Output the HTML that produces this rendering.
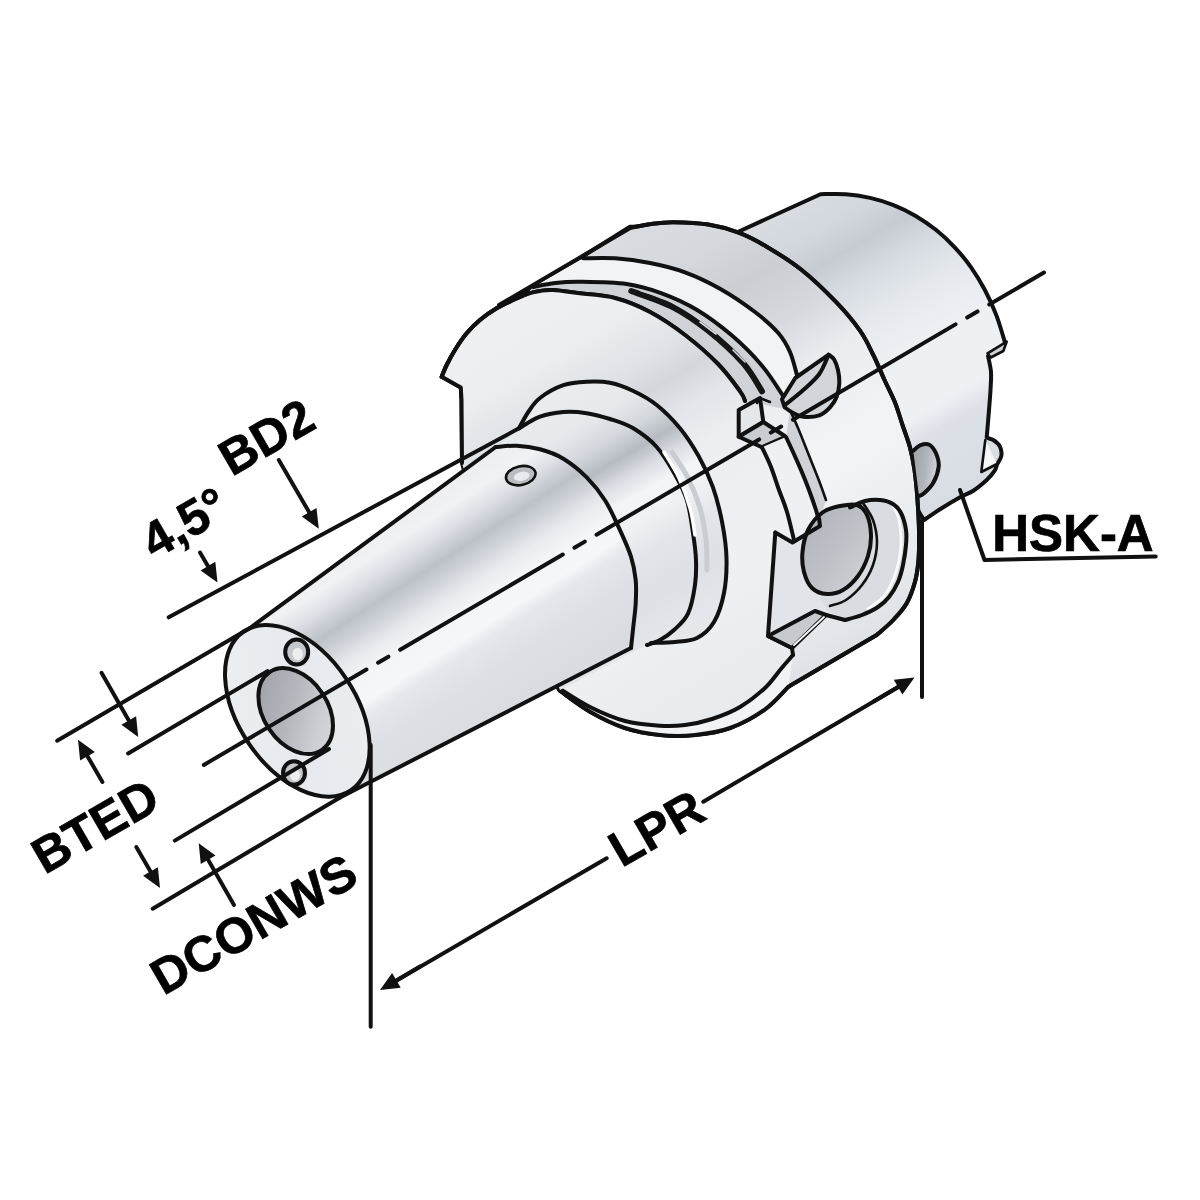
<!DOCTYPE html>
<html><head><meta charset="utf-8"><style>html,body{margin:0;padding:0;background:#fff}svg{display:block}</style></head>
<body><svg width="1200" height="1200" viewBox="0 0 1200 1200">
<defs><linearGradient id="gCone" gradientUnits="userSpaceOnUse" x1="364.1" y1="534.8" x2="487.3" y2="726.7"><stop offset="0" stop-color="#eceef1"/><stop offset="0.1" stop-color="#f0f2f4"/><stop offset="0.18" stop-color="#dcdfe4"/><stop offset="0.28" stop-color="#bcc1c8"/><stop offset="0.36" stop-color="#d2d6db"/><stop offset="0.44" stop-color="#e9ecef"/><stop offset="0.52" stop-color="#f3f5f7"/><stop offset="0.62" stop-color="#f5f7f9"/><stop offset="0.68" stop-color="#e4e7eb"/><stop offset="0.8" stop-color="#dde0e5"/><stop offset="1" stop-color="#d8dce1"/></linearGradient>
<linearGradient id="gShank" gradientUnits="userSpaceOnUse" x1="886.3" y1="150.7" x2="1073.5" y2="469.8"><stop offset="0" stop-color="#d9dde2"/><stop offset="0.1" stop-color="#d2d7dd"/><stop offset="0.18" stop-color="#c6cbd3"/><stop offset="0.26" stop-color="#d6dbe1"/><stop offset="0.36" stop-color="#e4e8ec"/><stop offset="0.5" stop-color="#eef1f4"/><stop offset="0.66" stop-color="#eef1f4"/><stop offset="0.72" stop-color="#dde1e7"/><stop offset="1" stop-color="#d5dae1"/></linearGradient>
<linearGradient id="gFlange" gradientUnits="userSpaceOnUse" x1="540.3" y1="272.5" x2="798.4" y2="712.3"><stop offset="0" stop-color="#dadde1"/><stop offset="0.12" stop-color="#d5d9dd"/><stop offset="0.22" stop-color="#cbcfd4"/><stop offset="0.32" stop-color="#d5d9dd"/><stop offset="0.42" stop-color="#eaedf0"/><stop offset="0.6" stop-color="#f2f4f6"/><stop offset="0.85" stop-color="#e8ebee"/><stop offset="1" stop-color="#d8dce0"/></linearGradient>
<linearGradient id="gCollar" gradientUnits="userSpaceOnUse" x1="523.4" y1="421.5" x2="660.1" y2="654.4"><stop offset="0" stop-color="#e9ecef"/><stop offset="0.12" stop-color="#e6e9ec"/><stop offset="0.22" stop-color="#d3d7dc"/><stop offset="0.3" stop-color="#b6bbc2"/><stop offset="0.37" stop-color="#d9dce1"/><stop offset="0.45" stop-color="#f3f5f7"/><stop offset="0.55" stop-color="#eef0f3"/><stop offset="0.65" stop-color="#e2e5e9"/><stop offset="0.8" stop-color="#dde0e4"/><stop offset="1" stop-color="#e6e9ec"/></linearGradient>
<linearGradient id="gBore" x1="0.2" y1="0" x2="0.8" y2="1"><stop offset="0" stop-color="#9ea2a8"/><stop offset="0.45" stop-color="#b4b8bd"/><stop offset="0.8" stop-color="#cdd0d4"/><stop offset="1" stop-color="#d6d9dc"/></linearGradient>
<linearGradient id="gHole" x1="0" y1="0" x2="1" y2="1"><stop offset="0" stop-color="#8f949b"/><stop offset="0.6" stop-color="#b6bac0"/><stop offset="1" stop-color="#d4d7db"/></linearGradient>
<linearGradient id="gFace" x1="0" y1="0" x2="1" y2="1"><stop offset="0" stop-color="#eef0f3"/><stop offset="0.5" stop-color="#e6e9ed"/><stop offset="1" stop-color="#edf0f2"/></linearGradient>
<linearGradient id="gBand" gradientUnits="userSpaceOnUse" x1="540.3" y1="272.5" x2="798.4" y2="712.3"><stop offset="0" stop-color="#cdd1d6"/><stop offset="0.25" stop-color="#bfc3c9"/><stop offset="0.5" stop-color="#e3e6e9"/><stop offset="1" stop-color="#eef0f2"/></linearGradient>
<linearGradient id="gFF" gradientUnits="userSpaceOnUse" x1="540.3" y1="272.5" x2="798.4" y2="712.3"><stop offset="0" stop-color="#eef0f2"/><stop offset="0.15" stop-color="#eceef1"/><stop offset="0.25" stop-color="#dfe2e6"/><stop offset="0.31" stop-color="#d3d7dc"/><stop offset="0.37" stop-color="#e2e5e9"/><stop offset="0.45" stop-color="#eceef1"/><stop offset="0.7" stop-color="#eef0f2"/><stop offset="1" stop-color="#e6e9ec"/></linearGradient>
<linearGradient id="gH3" x1="0" y1="0" x2="1" y2="1"><stop offset="0" stop-color="#aeb2b8"/><stop offset="0.55" stop-color="#bfc3c8"/><stop offset="1" stop-color="#d3d6da"/></linearGradient>
<linearGradient id="gRH" x1="0" y1="0" x2="1" y2="0.3"><stop offset="0" stop-color="#9a9fa6"/><stop offset="0.6" stop-color="#b3b7bd"/><stop offset="1" stop-color="#d2d5d9"/></linearGradient></defs>
<rect width="1200" height="1200" fill="#fff"/>
<path d="M738.3,231.7 L820.5,194.2 C824.7,194.2 837.3,193.6 845.6,194.2 C853.9,194.8 862.1,196.1 870.1,197.9 C878.1,199.7 885.9,202.1 893.5,205.1 C901.1,208.1 908.6,211.8 915.7,215.9 C922.8,220.1 929.7,224.8 936.2,230 C942.7,235.2 948.9,241.1 954.7,247.3 C960.5,253.5 966.1,260.2 971.1,267.4 C976.1,274.6 980.8,282.3 985,290.3 C989.2,298.3 993.1,306.7 996.4,315.4 C999.7,324.1 1003.6,338 1005,342.5 L1002,350 L988,356 C988.5,358.7 990.6,366.3 991,372 C991.4,377.7 990.8,383.7 990.5,390 C990.2,396.3 989.6,402.1 989,410 C988.4,417.9 987.1,432.8 986.7,437.3 C987.8,438.8 991.1,438.6 993.3,440 C995.5,441.4 998.7,444 1000,446.7 C1001.3,449.4 1001.8,453.1 1001.3,456 C1000.8,458.9 998.4,461.6 997.3,464 C996.2,466.4 996.5,468 994.7,470.7 C992.9,473.4 990.3,476.7 986.7,480 C983.1,483.3 977.8,487.8 973.3,490.7 C968.8,493.6 965.5,494.2 960,497.3 C954.5,500.4 946,505.5 940,509.3 C934,513.1 926.7,518.2 924,520 L880,450 Z" fill="url(#gShank)" stroke="#111" stroke-width="4.0" stroke-linejoin="round" stroke-linecap="round"/>
<path d="M987.5,353.3 L1006.7,341.7 L1003.3,351 L990.8,357.5 Z" fill="#cfd3d8" stroke="#111" stroke-width="2.6" stroke-linejoin="round" stroke-linecap="round"/>
<path d="M985.3,440 L981.3,472 L997,464" fill="#f6f7f8" stroke="#111" stroke-width="2.6" stroke-linejoin="round" stroke-linecap="round"/>
<path d="M522,294.5 L630,226.7 C633.7,227.3 643.8,225 651,224 C658.2,223 663.8,222.1 673.3,222.2 C682.8,222.3 697.4,222.8 708.3,224.5 C719.2,226.2 729,229 738.7,232.7 C748.4,236.4 756.2,240.5 766.7,246.7 C777.2,252.9 790,260.7 801.7,270 C813.4,279.3 827,292.6 836.7,302.7 C846.4,312.8 853.9,322 860,330.7 C866.1,339.4 869.2,346.8 873.3,355 C877.4,363.2 880.9,372.1 884.5,380 C888.1,387.9 892,395 895,402.5 C898,410 900,417.5 902.5,425 C905,432.5 908,440 910,447.5 C912,455 913.2,461.2 914.5,470 C915.8,478.8 916.8,490 917.5,500 C918.2,510 918.8,520 919,530 C919.2,540 919.2,551.4 918.5,560 C917.8,568.6 917,574.5 915,581.7 C913,588.9 910.3,596.9 906.7,603.3 C903.1,609.7 898.3,614.7 893.3,620 C888.3,625.3 879.5,632.5 876.7,635 L788.3,686.7 C784.4,690.5 774.7,702.4 765,709.3 C755.3,716.2 741.7,723.7 730,728 C718.3,732.3 706.7,733.8 695,735 C683.3,736.2 671.7,736.2 660,735 C648.3,733.8 636.7,731.9 625,728 C613.3,724.1 600.9,717.9 590,711.7 C579.1,705.5 564.8,694.2 559.7,690.7 L500,600 L462,463 L461.5,400 L460.8,387.5 L441.7,376.7 C442.5,374.8 444.5,369.4 446.7,365 C448.9,360.6 451.7,355.3 455,350 C458.3,344.7 462.5,338.3 466.7,333.3 C470.9,328.3 475,324.2 480,320 C485,315.8 491.1,311.6 496.7,308.3 C502.2,305 508.2,302.4 513.3,300 C518.3,297.6 524.7,295 527,294 Z" fill="url(#gFlange)" stroke="#111" stroke-width="4.0" stroke-linejoin="round" stroke-linecap="round"/>
<path d="M583,258.3 C588.3,258.3 603.8,257.5 615,258.3 C626.2,259.1 638.3,260.7 650,263 C661.7,265.3 673.3,268 685,272.3 C696.7,276.6 708.3,282.1 720,288.7 C731.7,295.3 745.3,304.6 755,312 C764.7,319.4 772.5,326.3 778.3,333 C784.1,339.7 786.9,345 790,352 C793.1,359 795.8,371.2 797,375 L790,410 C788.8,407.7 787.7,403.4 783,396 C778.3,388.6 770.5,375.8 762,365.7 C753.5,355.6 742.6,344.6 731.7,335.3 C720.8,326 708.4,316.7 696.7,309.7 C685,302.7 673.4,297.6 661.7,293.3 C650,289 640.3,285.9 626.7,284 C613.1,282.1 592,281.9 580,281.7 C568,281.5 562.8,282.1 555,283 C547.2,283.9 536.7,286.3 533,287 Z" fill="#f1f3f5" stroke="none" stroke-width="4.0" stroke-linejoin="round" stroke-linecap="round"/>
<path d="M533,287 C536.7,286.3 547.2,283.9 555,283 C562.8,282.1 568,281.5 580,281.7 C592,281.9 613.1,282.1 626.7,284 C640.3,285.9 650,289 661.7,293.3 C673.4,297.6 685,302.7 696.7,309.7 C708.4,316.7 720.8,326 731.7,335.3 C742.6,344.6 753.5,355.6 762,365.7 C770.5,375.8 778.3,388.6 783,396 C787.7,403.4 788.8,407.7 790,410 L745,401 C744.2,399.4 744.5,397.5 740,391.3 C735.5,385.1 727.2,373.4 718,364 C708.8,354.6 696.3,343.7 685,335 C673.7,326.3 661.7,318.2 650,312 C638.3,305.8 626.7,301.1 615,298 C603.3,294.9 590.3,294.6 580,293.3 C569.7,292 560,290.4 553.3,290 C546.6,289.6 544.4,290.3 540,291 C535.6,291.7 529.2,293.5 527,294 Z" fill="#cfd3d8" stroke="none" stroke-width="4.0" stroke-linejoin="round" stroke-linecap="round"/>
<path d="M631.3,291 C638.3,293.7 660.5,300.7 673.3,307.3 C686.1,313.9 696.6,321.4 708.3,330.7 C720,340 734.3,353.2 743.3,363.3 C752.2,373.4 758.9,386.6 762,391.3" fill="none" stroke="#151515" stroke-width="6" stroke-linejoin="round" stroke-linecap="round"/>
<path d="M700,322 L716,334" fill="none" stroke="#d8dbe0" stroke-width="1.6" stroke-linejoin="round" stroke-linecap="round"/>
<path d="M733,350 L745,362" fill="none" stroke="#d8dbe0" stroke-width="1.6" stroke-linejoin="round" stroke-linecap="round"/>
<path d="M640,290.5 C646.7,292.9 668,299.1 680,305 C692,310.9 701.2,317.3 712,326 C722.8,334.7 736.5,347.3 745,357 C753.5,366.7 760,379.5 763,384" fill="none" stroke="#c9cdd2" stroke-width="1.2" stroke-linejoin="round" stroke-linecap="round"/>
<path d="M583,258.3 C588.3,258.3 603.8,257.5 615,258.3 C626.2,259.1 638.3,260.7 650,263 C661.7,265.3 673.3,268 685,272.3 C696.7,276.6 708.3,282.1 720,288.7 C731.7,295.3 745.3,304.6 755,312 C764.7,319.4 772.5,326.3 778.3,333 C784.1,339.7 786.9,345 790,352 C793.1,359 795.8,371.2 797,375" fill="none" stroke="#111" stroke-width="4.0" stroke-linejoin="round" stroke-linecap="round"/>
<path d="M533,287 C536.7,286.3 547.2,283.9 555,283 C562.8,282.1 568,281.5 580,281.7 C592,281.9 613.1,282.1 626.7,284 C640.3,285.9 650,289 661.7,293.3 C673.4,297.6 685,302.7 696.7,309.7 C708.4,316.7 720.8,326 731.7,335.3 C742.6,344.6 753.5,355.6 762,365.7 C770.5,375.8 778.3,388.6 783,396 C787.7,403.4 788.8,407.7 790,410" fill="none" stroke="#111" stroke-width="4.0" stroke-linejoin="round" stroke-linecap="round"/>
<path d="M527,294 C529.2,293.5 535.6,291.7 540,291 C544.4,290.3 546.6,289.6 553.3,290 C560,290.4 569.7,292 580,293.3 C590.3,294.6 603.3,294.9 615,298 C626.7,301.1 638.3,305.8 650,312 C661.7,318.2 673.7,326.3 685,335 C696.3,343.7 708.8,354.6 718,364 C727.2,373.4 735.5,385.1 740,391.3 C744.5,397.5 744.2,399.4 745,401" fill="none" stroke="#111" stroke-width="4.0" stroke-linejoin="round" stroke-linecap="round"/>
<path d="M499,305 L630.2,228 C633.7,227.3 643.8,225 651,224 C658.2,223 663.8,222.1 673.3,222.2 C682.8,222.3 697.4,222.8 708.3,224.5 C719.2,226.2 729,229 738.7,232.7 C748.4,236.4 756.2,240.5 766.7,246.7 C777.2,252.9 790,260.7 801.7,270 C813.4,279.3 827,292.6 836.7,302.7 C846.4,312.8 853.9,322 860,330.7 C866.1,339.4 869.2,346.8 873.3,355 C877.4,363.2 880.9,372.1 884.5,380 C888.1,387.9 892,395 895,402.5 C898,410 900,417.5 902.5,425 C905,432.5 908,440 910,447.5 C912,455 913.2,461.2 914.5,470 C915.8,478.8 916.8,490 917.5,500 C918.2,510 918.8,520 919,530 C919.2,540 919.2,551.4 918.5,560 C917.8,568.6 917,574.5 915,581.7 C913,588.9 910.3,596.9 906.7,603.3 C903.1,609.7 898.3,614.7 893.3,620 C888.3,625.3 879.5,632.5 876.7,635 L788.3,686.7" fill="none" stroke="#111" stroke-width="4.0" stroke-linejoin="round" stroke-linecap="round"/>
<path d="M441.7,376.7 C442.5,374.8 444.5,369.4 446.7,365 C448.9,360.6 451.7,355.3 455,350 C458.3,344.7 462.5,338.3 466.7,333.3 C470.9,328.3 475,324.2 480,320 C485,315.8 491.1,311.6 496.7,308.3 C502.2,305 508.2,302.4 513.3,300 C518.3,297.6 522.5,295.5 527,294 C531.5,292.5 535.6,291.7 540,291 C544.4,290.3 546.6,289.6 553.3,290 C560,290.4 569.7,292 580,293.3 C590.3,294.6 603.3,294.9 615,298 C626.7,301.1 638.3,305.8 650,312 C661.7,318.2 673.7,326.3 685,335 C696.3,343.7 708.8,354.6 718,364 C727.2,373.4 735.5,385.1 740,391.3 C744.5,397.5 744.2,399.4 745,401 L738.7,410 L738.7,436.7 L762,447.3 C763.5,450.6 768.2,459.9 771,467 C773.8,474.1 776.3,482.5 779,490 C781.7,497.5 784.5,503.7 787,512 C789.5,520.3 792.8,535.3 794,540 L775.3,532.7 L772,633 L792,648 C791.1,657.2 786.4,662.5 781.7,668 C777,673.5 772,681.5 765,688 C758,694.5 748.8,701.8 740,707 C731.2,712.2 721.2,716 712,719 C702.8,722 693.7,723.9 685,725 C676.3,726.1 670,726.4 660,725.7 C650,725 636.7,724.1 625,721 C613.3,717.9 601.3,712.6 590,707 C578.7,701.4 562.8,690.5 557.3,687.2 L500,600 L462,463 L461.5,400 L460.8,387.5 Z" fill="url(#gFF)" stroke="none" stroke-width="4.0" stroke-linejoin="round" stroke-linecap="round"/>
<path d="M788.3,686.7 C784.4,690.5 774.7,702.4 765,709.3 C755.3,716.2 741.7,723.7 730,728 C718.3,732.3 706.7,733.8 695,735 C683.3,736.2 671.7,736.2 660,735 C648.3,733.8 636.7,731.9 625,728 C613.3,724.1 600.9,717.9 590,711.7 C579.1,705.5 564.8,694.2 559.7,690.7 L557.3,687.2 C562.8,690.5 578.7,701.4 590,707 C601.3,712.6 613.3,717.9 625,721 C636.7,724.1 650,725 660,725.7 C670,726.4 676.3,726.1 685,725 C693.7,723.9 702.8,722 712,719 C721.2,716 731.2,712.2 740,707 C748.8,701.8 758,694.5 765,688 C772,681.5 777,673.5 781.7,668 C786.4,662.5 791.1,657.2 793,655 Z" fill="#f1f3f5" stroke="none" stroke-width="4.0" stroke-linejoin="round" stroke-linecap="round"/>
<path d="M793,655 C791.1,657.2 786.4,662.5 781.7,668 C777,673.5 772,681.5 765,688 C758,694.5 748.8,701.8 740,707 C731.2,712.2 721.2,716 712,719 C702.8,722 693.7,723.9 685,725 C676.3,726.1 670,726.4 660,725.7 C650,725 636.7,724.1 625,721 C613.3,717.9 601.3,712.6 590,707 C578.7,701.4 562.8,690.5 557.3,687.2" fill="none" stroke="#111" stroke-width="4.0" stroke-linejoin="round" stroke-linecap="round"/>
<path d="M441.7,376.7 C442.5,374.8 444.5,369.4 446.7,365 C448.9,360.6 451.7,355.3 455,350 C458.3,344.7 462.5,338.3 466.7,333.3 C470.9,328.3 475,324.2 480,320 C485,315.8 491.1,311.6 496.7,308.3 C502.2,305 508.2,302.4 513.3,300 C518.3,297.6 522.5,295.5 527,294 C531.5,292.5 535.6,291.7 540,291 C544.4,290.3 546.6,289.6 553.3,290 C560,290.4 569.7,292 580,293.3 C590.3,294.6 603.3,294.9 615,298 C626.7,301.1 638.3,305.8 650,312 C661.7,318.2 673.7,326.3 685,335 C696.3,343.7 708.8,354.6 718,364 C727.2,373.4 735.5,385.1 740,391.3 C744.5,397.5 744.2,399.4 745,401" fill="none" stroke="#111" stroke-width="4.0" stroke-linejoin="round" stroke-linecap="round"/>
<path d="M441.7,376.7 C442.5,374.8 444.5,369.4 446.7,365 C448.9,360.6 451.7,355.3 455,350 C458.3,344.7 462.5,338.3 466.7,333.3 C470.9,328.3 475,324.2 480,320 C485,315.8 491.1,311.6 496.7,308.3 C502.2,305 508.2,302.4 513.3,300 C518.3,297.6 524.7,295 527,294" fill="none" stroke="#111" stroke-width="4.0" stroke-linejoin="round" stroke-linecap="round"/>
<path d="M441.7,376.7 L460.8,387.5 L461.5,400 L462,463" fill="none" stroke="#111" stroke-width="4.0" stroke-linejoin="round" stroke-linecap="round"/>
<path d="M788.3,686.7 C784.4,690.5 774.7,702.4 765,709.3 C755.3,716.2 741.7,723.7 730,728 C718.3,732.3 706.7,733.8 695,735 C683.3,736.2 671.7,736.2 660,735 C648.3,733.8 636.7,731.9 625,728 C613.3,724.1 600.9,717.9 590,711.7 C579.1,705.5 564.8,694.2 559.7,690.7" fill="none" stroke="#111" stroke-width="4.0" stroke-linejoin="round" stroke-linecap="round"/>
<path d="M738.7,410 L760,398 L763.3,422 L738.7,436.7 Z" fill="#e4e7ea" stroke="#111" stroke-width="4.0" stroke-linejoin="round" stroke-linecap="round"/>
<path d="M738.7,436.7 L763.3,422 L786,436.7 L762,447.3 Z" fill="#c9cdd2" stroke="#111" stroke-width="4.0" stroke-linejoin="round" stroke-linecap="round"/>
<path d="M757,403 L760,398 L770,402" fill="none" stroke="#111" stroke-width="2.6" stroke-linejoin="round" stroke-linecap="round"/>
<path d="M762,447.3 C763.5,450.6 768.2,459.9 771,467 C773.8,474.1 776.3,482.5 779,490 C781.7,497.5 784.5,503.7 787,512 C789.5,520.3 792.8,535.3 794,540 L819,522 C818.5,520 817.7,515.3 816,510 C814.3,504.7 811.5,496.7 809,490 C806.5,483.3 803.7,476.3 801,470 C798.3,463.7 795.5,457.5 793,452 C790.5,446.5 787.2,439.5 786,437 Z" fill="#eef0f3" stroke="none" stroke-width="4.0" stroke-linejoin="round" stroke-linecap="round"/>
<path d="M786,437 C787.2,439.5 790.5,446.5 793,452 C795.5,457.5 798.3,463.7 801,470 C803.7,476.3 806.5,483.3 809,490 C811.5,496.7 814.3,504.7 816,510 C817.7,515.3 818.5,520 819,522 L826,500 C824.7,496.3 821,485.8 818,478 C815,470.2 811.3,461.3 808,453 C804.7,444.7 801,435.2 798,428 C795,420.8 791.3,413 790,410 Z" fill="#cfd3d8" stroke="none" stroke-width="4.0" stroke-linejoin="round" stroke-linecap="round"/>
<path d="M762,447.3 C763.5,450.6 768.2,459.9 771,467 C773.8,474.1 776.3,482.5 779,490 C781.7,497.5 784.5,503.7 787,512 C789.5,520.3 792.8,535.3 794,540" fill="none" stroke="#111" stroke-width="4.0" stroke-linejoin="round" stroke-linecap="round"/>
<path d="M786,437 C787.2,439.5 790.5,446.5 793,452 C795.5,457.5 798.3,463.7 801,470 C803.7,476.3 806.5,483.3 809,490 C811.5,496.7 814.3,504.7 816,510 C817.7,515.3 818.5,520 819,522" fill="none" stroke="#111" stroke-width="4.0" stroke-linejoin="round" stroke-linecap="round"/>
<path d="M790,410 C791.3,413 795,420.8 798,428 C801,435.2 804.7,444.7 808,453 C811.3,461.3 815,470.2 818,478 C821,485.8 824.7,496.3 826,500" fill="none" stroke="#111" stroke-width="2.6" stroke-linejoin="round" stroke-linecap="round"/>
<path d="M782,399.3 L795.3,378 L828.7,354.7 C829.6,355.5 832.5,356.8 834,359.3 C835.5,361.9 837.1,366 838,370 C838.9,374 839.5,378.9 839.3,383.3 C839.1,387.8 838.2,392.7 836.7,396.7 C835.2,400.7 832.9,404.2 830,407.3 C827.1,410.4 823.8,413.7 819.3,415.3 C814.8,416.9 807.7,417.1 803.3,416.7 C798.9,416.3 795.8,414.3 792.7,412.7 C789.6,411.1 786,408.2 784.7,407.3 Z" fill="#d2d5d9" stroke="#111" stroke-width="4.0" stroke-linejoin="round" stroke-linecap="round"/>
<path d="M785,405 C788,402.5 797.6,395.2 803.3,390 C809,384.8 815.1,379.9 819.3,374 C823.5,368.1 827.1,357.9 828.7,354.7" fill="none" stroke="#111" stroke-width="4.0" stroke-linejoin="round" stroke-linecap="round"/>
<path d="M775,532.5 L792.5,542.5 L820,526 L850,507.5 L845,620 L826,615 L815,611 L768,636 Z" fill="#e1e4e8" stroke="none" stroke-width="4.0" stroke-linejoin="round" stroke-linecap="round"/>
<path d="M850,507.5 C852.5,506.4 860,502.2 865,501 C870,499.8 875.3,499.5 880,500 C884.7,500.5 889.5,501.8 893,504 C896.5,506.2 898.8,508.7 901,513 C903.2,517.3 905.2,524.7 906,530 C906.8,535.3 906.5,539.2 906,545 C905.5,550.8 904.3,558.8 903,565 C901.7,571.2 900.3,576.7 898,582 C895.7,587.3 892.3,592.8 889,597 C885.7,601.2 882.5,604 878,607 C873.5,610 867.5,612.8 862,615 C856.5,617.2 847.8,619.2 845,620 L830,612 L820,600 Z" fill="#d9dce0" stroke="none" stroke-width="4.0" stroke-linejoin="round" stroke-linecap="round"/>
<path d="M893,506 C894,508.3 897.7,513.5 899,520 C900.3,526.5 901.5,536.3 901,545 C900.5,553.7 898.7,563.7 896,572 C893.3,580.3 889.7,588.8 885,595 C880.3,601.2 870.8,606.7 868,609" fill="none" stroke="#f7f8f9" stroke-width="3" stroke-linejoin="round" stroke-linecap="round"/>
<path d="M822.5,512.5 C827.8,508.5 834.2,507.2 840,506 C845.8,504.8 852.5,503.5 857,505 C861.5,506.5 864.7,510 867,515 C869.3,520 870.8,528.2 871,535 C871.2,541.8 870.2,549.2 868,556 C865.8,562.8 862.2,570.3 858,576 C853.8,581.7 848.2,587 843,590 C837.8,593 832.2,594.3 827,594 C821.8,593.7 815.8,591.7 812,588 C808.2,584.3 805.6,578 804,572 C802.4,566 801.8,559 802.5,552 C803.2,545 804.7,536.6 808,530 C811.3,523.4 817.2,516.5 822.5,512.5 Z" fill="url(#gH3)" stroke="#111" stroke-width="4.0" stroke-linejoin="round" stroke-linecap="round"/>
<path d="M863,503 C864.7,505.8 870.7,513.5 873,520 C875.3,526.5 877,534.5 877,542 C877,549.5 875.5,557.8 873,565 C870.5,572.2 866.5,579.2 862,585 C857.5,590.8 851.3,596.5 846,600 C840.7,603.5 832.7,605 830,606" fill="none" stroke="#111" stroke-width="2.6" stroke-linejoin="round" stroke-linecap="round"/>
<path d="M850,507.5 C852.5,506.4 860,502.2 865,501 C870,499.8 875.3,499.5 880,500 C884.7,500.5 889.5,501.8 893,504 C896.5,506.2 898.8,508.7 901,513 C903.2,517.3 905.2,524.7 906,530 C906.8,535.3 906.5,539.2 906,545 C905.5,550.8 904.3,558.8 903,565 C901.7,571.2 900.3,576.7 898,582 C895.7,587.3 892.3,592.8 889,597 C885.7,601.2 882.5,604 878,607 C873.5,610 867.5,612.8 862,615 C856.5,617.2 847.8,619.2 845,620" fill="none" stroke="#111" stroke-width="4.0" stroke-linejoin="round" stroke-linecap="round"/>
<path d="M775.3,532.5 L792.5,542.5 L820,526 L819,518" fill="none" stroke="#111" stroke-width="4.0" stroke-linejoin="round" stroke-linecap="round"/>
<path d="M775.3,532.5 L768,636 L792,648 L793,655" fill="none" stroke="#111" stroke-width="4.0" stroke-linejoin="round" stroke-linecap="round"/>
<path d="M768,636 L815,611 L826,615 L792,648 Z" fill="#c6cacf" stroke="#111" stroke-width="4.0" stroke-linejoin="round" stroke-linecap="round"/>
<path d="M794,645 L824,617" fill="none" stroke="#f4f5f7" stroke-width="2" stroke-linejoin="round" stroke-linecap="round"/>
<path d="M826,615 L845,620" fill="none" stroke="#111" stroke-width="4.0" stroke-linejoin="round" stroke-linecap="round"/>
<path d="M913.3,450.7 C914.4,449.8 917.3,446.3 920,445.3 C922.7,444.3 926.6,443.4 929.3,444.7 C932,446 934.4,449.6 936,453.3 C937.6,457 939.2,461.8 938.7,466.7 C938.2,471.6 935.8,478.3 933.3,482.7 C930.8,487.1 926.4,491.1 924,493.3 C921.6,495.5 919.8,495.6 919,496" fill="url(#gRH)" stroke="#111" stroke-width="4.0" stroke-linejoin="round" stroke-linecap="round"/>
<path d="M519,428.3 C520.5,425.6 524.8,417.1 528.3,412 C531.8,406.9 534.2,402.5 540,398 C545.8,393.5 555.5,387.9 563.3,385.2 C571.1,382.5 578.9,382.1 586.7,381.7 C594.5,381.3 602.2,381.2 610,382.8 C617.8,384.4 625.5,387.3 633.3,391 C641.1,394.7 648.9,398.8 656.7,405 C664.5,411.2 673,419.8 680,428.3 C687,436.9 693.2,446.6 698.7,456.3 C704.2,466 708.8,475.8 712.7,486.7 C716.6,497.6 719.7,509.8 722,521.7 C724.3,533.6 726.2,546.1 726.5,558 C726.8,569.9 726.1,582.3 724,593 C721.9,603.7 718.5,614.5 714,622 C709.5,629.5 703.5,634.7 697,638 C690.5,641.3 682.7,641.2 675,642 C667.3,642.8 655,642.8 651,643 L560,690 L470,470 Z" fill="url(#gCollar)" stroke="none" stroke-width="4.0" stroke-linejoin="round" stroke-linecap="round"/>
<path d="M519,428.3 C520.5,425.6 524.8,417.1 528.3,412 C531.8,406.9 534.2,402.5 540,398 C545.8,393.5 555.5,387.9 563.3,385.2 C571.1,382.5 578.9,382.1 586.7,381.7 C594.5,381.3 602.2,381.2 610,382.8 C617.8,384.4 625.5,387.3 633.3,391 C641.1,394.7 648.9,398.8 656.7,405 C664.5,411.2 673,419.8 680,428.3 C687,436.9 693.2,446.6 698.7,456.3 C704.2,466 708.8,475.8 712.7,486.7 C716.6,497.6 719.7,509.8 722,521.7 C724.3,533.6 726.2,546.1 726.5,558 C726.8,569.9 726.1,582.3 724,593 C721.9,603.7 718.5,614.5 714,622 C709.5,629.5 703.5,634.7 697,638 C690.5,641.3 682.7,641.2 675,642 C667.3,642.8 655,642.8 651,643" fill="none" stroke="#111" stroke-width="4.0" stroke-linejoin="round" stroke-linecap="round"/>
<path d="M519,428.3 C522.5,426.4 532.6,419.4 540,416.7 C547.4,414 555.5,412.6 563.3,412 C571.1,411.4 578.9,412 586.7,413.2 C594.5,414.4 602.2,416.5 610,419 C617.8,421.5 625.5,423.6 633.3,428.3 C641.1,433 649.7,439.2 656.7,447 C663.7,454.8 670.2,466.1 675.3,475 C680.3,483.9 684,491 687,500.7 C690,510.4 691.5,523.1 693,533 C694.5,542.9 695.7,551.3 696,560 C696.3,568.7 696.3,576 695,585 C693.7,594 691.5,606.2 688,613.7 C684.5,621.2 678.7,625.6 674,630 C669.3,634.4 664.5,637.5 660,640 C655.5,642.5 649.2,644.2 647,645" fill="none" stroke="#111" stroke-width="4.0" stroke-linejoin="round" stroke-linecap="round"/>
<path d="M672,452 C674.7,456.3 683.3,468.7 688,478 C692.7,487.3 697,497.7 700,508 C703,518.3 704.8,529.7 706,540 C707.2,550.3 706.8,565 707,570" fill="none" stroke="#c9cdd2" stroke-width="5" stroke-linejoin="round" stroke-linecap="round"/>
<path d="M664,452 C666.5,456.3 674.7,468.7 679,478 C683.3,487.3 687.3,498.5 690,508 C692.7,517.5 694.2,530.5 695,535" fill="none" stroke="#ffffff" stroke-width="3.5" stroke-linejoin="round" stroke-linecap="round"/>
<path d="M250,628 L495.7,447 C499.2,446.8 509.3,445.4 516.7,445.8 C524.1,446.2 532.2,447.2 540,449.3 C547.8,451.4 555.5,454 563.3,458.7 C571.1,463.4 579.7,470.3 586.7,477.3 C593.7,484.3 599.9,492.1 605.3,500.7 C610.7,509.3 615,519.4 619.3,528.7 C623.6,538 628.3,548.2 631,556.7 C633.7,565.2 634.9,572.2 635.7,580 C636.5,587.8 636.1,595.5 635.7,603.3 C635.3,611.1 634.1,619.2 633.3,626.7 C632.5,634.2 631.4,644.5 631,648 L340,797.5 Z" fill="url(#gCone)" stroke="none" stroke-width="4.0" stroke-linejoin="round" stroke-linecap="round"/>
<path d="M250,628 L495.7,447" fill="none" stroke="#111" stroke-width="4.0" stroke-linejoin="round" stroke-linecap="round"/>
<path d="M340,797.5 L631,648" fill="none" stroke="#111" stroke-width="4.0" stroke-linejoin="round" stroke-linecap="round"/>
<path d="M495.7,447 C499.2,446.8 509.3,445.4 516.7,445.8 C524.1,446.2 532.2,447.2 540,449.3 C547.8,451.4 555.5,454 563.3,458.7 C571.1,463.4 579.7,470.3 586.7,477.3 C593.7,484.3 599.9,492.1 605.3,500.7 C610.7,509.3 615,519.4 619.3,528.7 C623.6,538 628.3,548.2 631,556.7 C633.7,565.2 634.9,572.2 635.7,580 C636.5,587.8 636.1,595.5 635.7,603.3 C635.3,611.1 634.1,619.2 633.3,626.7 C632.5,634.2 631.4,644.5 631,648" fill="none" stroke="#111" stroke-width="4.0" stroke-linejoin="round" stroke-linecap="round"/>
<g transform="rotate(-12 520.8 475.6)"><ellipse cx="520.8" cy="475.6" rx="15" ry="9.4" fill="#b9bdc2" stroke="#111" stroke-width="2.6"/><ellipse cx="521.5" cy="476.5" rx="8" ry="4.5" fill="#e8eaed"/></g>
<ellipse cx="297.35" cy="710.84" rx="58.51" ry="95.81" transform="rotate(-34.08 297.35 710.84)" fill="url(#gFace)" stroke="#111" stroke-width="4.0"/>
<ellipse cx="295.7" cy="711.1" rx="32.1" ry="46.9" transform="rotate(-33.75 295.7 711.1)" fill="url(#gBore)" stroke="#111" stroke-width="4.0"/>
<ellipse cx="296.7" cy="652" rx="11.5" ry="12.5" fill="#c5c8cd" stroke="#111" stroke-width="4.0"/>
<ellipse cx="297.7" cy="654" rx="5.175" ry="6.25" fill="#eceef0"/>
<ellipse cx="294" cy="773" rx="11" ry="11.8" fill="#c5c8cd" stroke="#111" stroke-width="4.0"/>
<ellipse cx="295" cy="775" rx="4.95" ry="5.9" fill="#eceef0"/>
<path d="M203.8,764.9 L1044,272.5" fill="none" stroke="#111" stroke-width="4.0" stroke-linejoin="round" stroke-linecap="round" stroke-dasharray="188.5 13.5 12 13.6" stroke-linecap="butt"/>
<path d="M57.1,740.7 L250,628" fill="none" stroke="#111" stroke-width="4.0" stroke-linejoin="round" stroke-linecap="round"/>
<path d="M128.1,753.5 L267.5,671.2" fill="none" stroke="#111" stroke-width="4.0" stroke-linejoin="round" stroke-linecap="round"/>
<path d="M174.8,840.6 L329,749" fill="none" stroke="#111" stroke-width="4.0" stroke-linejoin="round" stroke-linecap="round"/>
<path d="M152.7,908.7 L340,797.5" fill="none" stroke="#111" stroke-width="4.0" stroke-linejoin="round" stroke-linecap="round"/>
<path d="M168.7,617.3 L519,428.3" fill="none" stroke="#111" stroke-width="4.0" stroke-linejoin="round" stroke-linecap="round"/>
<path d="M370.7,745 L370.7,1026.7" fill="none" stroke="#111" stroke-width="4.0" stroke-linejoin="round" stroke-linecap="round"/>
<path d="M922,521 L922,697" fill="none" stroke="#111" stroke-width="4.0" stroke-linejoin="round" stroke-linecap="round"/>
<path d="M960,490 L984.5,560 L1155.7,556.5" fill="none" stroke="#111" stroke-width="4.0" stroke-linejoin="round" stroke-linecap="round"/>
<path d="M388,985.4 L606.7,858.3" fill="none" stroke="#111" stroke-width="4.0" stroke-linejoin="round" stroke-linecap="round"/>
<path d="M703.3,801.7 L906,682.5" fill="none" stroke="#111" stroke-width="4.0" stroke-linejoin="round" stroke-linecap="round"/>
<path d="M101.5,672.8 L128.8,720.5" fill="none" stroke="#111" stroke-width="4.0" stroke-linejoin="round" stroke-linecap="round"/>
<path d="M138.2,737 L121.4,724.7 L136.1,716.3 Z" fill="#111"/>
<path d="M102.4,782 L87.5,756.2" fill="none" stroke="#111" stroke-width="4.0" stroke-linejoin="round" stroke-linecap="round"/>
<path d="M78,739.7 L94.9,751.9 L80.1,760.4 Z" fill="#111"/>
<path d="M136.3,847 L150.5,871.6" fill="none" stroke="#111" stroke-width="4.0" stroke-linejoin="round" stroke-linecap="round"/>
<path d="M160,888 L143.1,875.8 L157.9,867.3 Z" fill="#111"/>
<path d="M234,905 L208.1,859.8" fill="none" stroke="#111" stroke-width="4.0" stroke-linejoin="round" stroke-linecap="round"/>
<path d="M198.7,843.3 L215.5,855.6 L200.8,864 Z" fill="#111"/>
<path d="M200,552.5 L207.9,566.1" fill="none" stroke="#111" stroke-width="4.0" stroke-linejoin="round" stroke-linecap="round"/>
<path d="M217.5,582.5 L200.6,570.4 L215.3,561.8 Z" fill="#111"/>
<path d="M278.8,460 L309.2,512.3" fill="none" stroke="#111" stroke-width="4.0" stroke-linejoin="round" stroke-linecap="round"/>
<path d="M318.8,528.8 L301.8,516.6 L316.5,508.1 Z" fill="#111"/>
<path d="M420,966.6 L396.4,980.4" fill="none" stroke="#111" stroke-width="4.0" stroke-linejoin="round" stroke-linecap="round"/>
<path d="M380,990 L392.1,973.1 L400.7,987.7 Z" fill="#111"/>
<path d="M874,701.2 L898.1,687.1" fill="none" stroke="#111" stroke-width="4.0" stroke-linejoin="round" stroke-linecap="round"/>
<path d="M914.5,677.5 L902.4,694.4 L893.8,679.8 Z" fill="#111"/>
<text x="0" y="0" transform="translate(44.8 875.1) rotate(-30)" style="font-family:&quot;Liberation Sans&quot;,sans-serif;font-weight:bold;font-size:50px" fill="#000" stroke="#000" stroke-width="0.7">BTED</text>
<text x="0" y="0" transform="translate(163.6 996.1) rotate(-30)" style="font-family:&quot;Liberation Sans&quot;,sans-serif;font-weight:bold;font-size:50px" fill="#000" stroke="#000" stroke-width="0.7">DCONWS</text>
<text x="0" y="0" transform="translate(621.8 868.1) rotate(-30)" style="font-family:&quot;Liberation Sans&quot;,sans-serif;font-weight:bold;font-size:50px" fill="#000" stroke="#000" stroke-width="0.7">LPR</text>
<text x="0" y="0" transform="translate(154.2 559.9) rotate(-30)" style="font-family:&quot;Liberation Sans&quot;,sans-serif;font-weight:bold;font-size:50px" fill="#000" stroke="#000" stroke-width="0.7">4,5°</text>
<text x="0" y="0" transform="translate(231.7 477.1) rotate(-30)" style="font-family:&quot;Liberation Sans&quot;,sans-serif;font-weight:bold;font-size:50px" fill="#000" stroke="#000" stroke-width="0.7">BD2</text>
<text x="0" y="0" transform="translate(992.2 551.3) rotate(0)" style="font-family:&quot;Liberation Sans&quot;,sans-serif;font-weight:bold;font-size:51px" fill="#000" stroke="#000" stroke-width="0.7">HSK-A</text>
</svg></body></html>
